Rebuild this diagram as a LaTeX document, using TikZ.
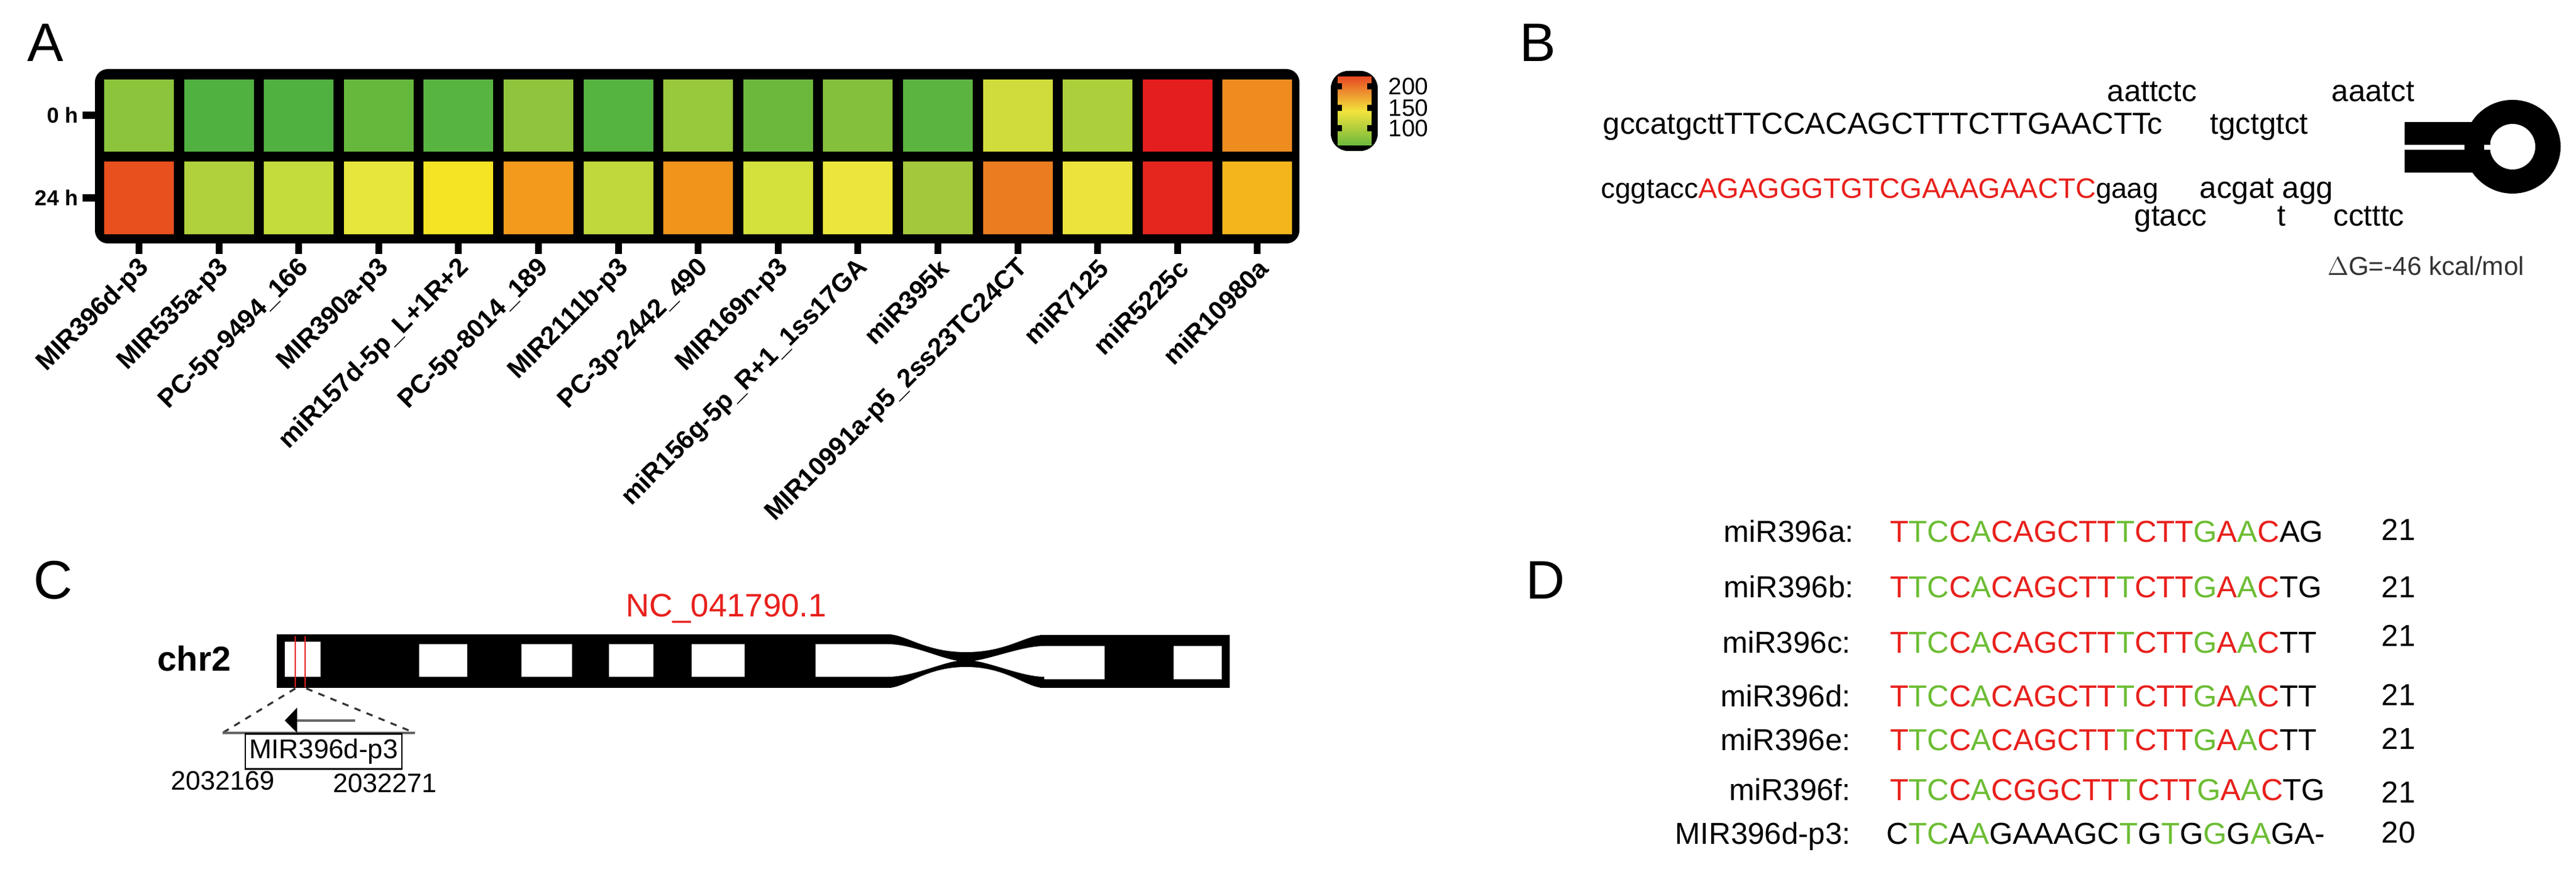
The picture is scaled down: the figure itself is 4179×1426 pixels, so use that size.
\documentclass[tikz,border=0pt]{standalone}
\usepackage{fontspec}
\setmainfont{Liberation Sans}
\usetikzlibrary{calc}
\definecolor{sred}{HTML}{E8201C}
\definecolor{sgreen}{HTML}{6CBD34}
\newcommand\sr[1]{\textcolor{sred}{#1}}
\newcommand\sg[1]{\textcolor{sgreen}{#1}}
\newcommand\fs[1]{\fontsize{#1}{#1}\selectfont}
\begin{document}
\begin{tikzpicture}[x=0.1mm,y=-0.1mm,
  panel/.style={anchor=north west,inner sep=0,font=\fs{25pt}},
  hlab/.style={anchor=east,rotate=45,inner sep=0,font=\fs{12pt}\bfseries},
  btxt/.style={anchor=base west,inner sep=0,font=\fs{14pt}},
  dlab/.style={anchor=base east,inner sep=0,font=\fs{14pt}},
  dseq/.style={anchor=base west,inner sep=0,font=\fs{14pt}},
  cnum/.style={anchor=base west,inner sep=0,font=\fs{12.3pt}}]
\useasboundingbox (0,0) rectangle (4179,1426);
\fill[white] (0,0) rectangle (4179,1426);
% ---------------- A
\node[panel] (pA) at (44,38) {A};
\fill[rounded corners=6] (154,112) rectangle (2108,395);
\foreach \i/\ca/\cb [count=\k] in {0/8CC43C/E8501E,1/50B040/B0D03C,2/50B040/C4DC3C,3/66B83C/E6E63C,4/58B440/F4E424,5/90C43C/F39A1C,6/55B340/C0D83C,7/98C83C/F0941C,8/6CB83C/D4E03C,9/84C03C/ECE63C,10/5CB440/A4C83C,11/D0DC3C/EC7C20,12/ACD03C/ECE43C,13/E41E1E/E4261E,14/EE8C20/F4B41C}{
  \definecolor{ca}{HTML}{\ca}\definecolor{cb}{HTML}{\cb}
  \fill[ca] ({169+129.6*\i},129) rectangle ({282+129.6*\i},246);
  \fill[cb] ({169+129.6*\i},262) rectangle ({282+129.6*\i},380);
  \fill ({220+129.6*\i},395) rectangle ({231+129.6*\i},412);
}
\foreach \i/\t/\n in {0/MIR396d-p3/l0,1/MIR535a-p3/l1,2/PC-5p-9494\_166/l2,3/MIR390a-p3/l3,4/miR157d-5p\_L+1R+2/l4,5/PC-5p-8014\_189/l5,6/MIR2111b-p3/l6,7/PC-3p-2442\_490/l7,8/MIR169n-p3/l8,9/miR156g-5p\_R+1\_1ss17GA/l9,10/miR395k/l10,11/MIR10991a-p5\_2ss23TC24CT/l11,12/miR7125/l12,13/miR5225c/l13,14/miR10980a/l14}
  \node[hlab] (\n) at ({236+129.6*\i},428) {\t};
\node[anchor=east,inner sep=0,font=\fs{10pt}\bfseries] (r0) at (128,187) {0 h};
\node[anchor=east,inner sep=0,font=\fs{10pt}\bfseries] (r1) at (128,321) {24 h};
\fill (134,181) rectangle (154,193);
\fill (134,315) rectangle (154,327);
% colorbar
\fill[rounded corners=8] (2159,115) rectangle (2235,245);
\shade[top color={rgb,255:red,232;green,74;blue,36},bottom color={rgb,255:red,108;green,184;blue,60},middle color={rgb,255:red,242;green,228;blue,60}] (2170,125) rectangle (2225,236);
\foreach \y in {140,175,208}{\fill (2168,{\y-5}) rectangle (2177,{\y+5}); \fill (2218,{\y-5}) rectangle (2227,{\y+5});}
\node[anchor=west,inner sep=0,font=\fs{11pt}] (c200) at (2252,140) {200};
\node[anchor=west,inner sep=0,font=\fs{11pt}] (c150) at (2252,175) {150};
\node[anchor=west,inner sep=0,font=\fs{11pt}] (c100) at (2252,208) {100};
% ---------------- B
\node[panel] (pB) at (2465,38) {B};
\node[btxt] (b1) at (2600,218) {gccatgcttTTCCACAGCTTTCTTGAACTTc};
\node[btxt] (b2) at (3418,165) {aattctc};
\node[btxt] (b3) at (3782,165) {aaatct};
\node[btxt] (b4) at (3585,218) {tgctgtct};
\node[btxt,font=\fs{13pt}] (b5) at (2597,322) {cggtacc\textcolor{sred}{AGAGGGTGTCGAAAGAACTC}gaag};
\node[btxt] (b6) at (3568,322) {acgat agg};
\node[btxt] (b7) at (3462,367) {gtacc};
\node[btxt] (b8) at (3694,367) {t};
\node[btxt] (b9) at (3785,367) {cctttc};
\fill (3901,198) rectangle (4040,235);
\fill (3901,243) rectangle (4040,280);
\fill[even odd rule] (4076,238) ellipse [x radius=78,y radius=76] (4076,238) circle [radius=37];
\fill[white] (4030,235) rectangle (4050,243);
\node[anchor=base west,inner sep=0,font=\fs{12pt},text=black!80] (dg) at (3775,447) {$\Delta$G=-46 kcal/mol};
% ---------------- C
\node[panel] (pC) at (54,909) {C};
\node[anchor=base,inner sep=0,font=\fs{15pt},text=sred] (nc) at (1178,1001) {NC\_041790.1};
\node[anchor=base east,inner sep=0,font=\fs{16pt}\bfseries] (chr) at (375,1089) {chr2};
\fill (449,1029) rectangle (1446,1116);
\fill (1687,1030) rectangle (1995,1116);
\fill[white] (462,1041) rectangle (520,1098);
\foreach \a/\b in {680/758,846/928,988/1060,1122/1208,1323/1450}
  \fill[white] (\a,1045) rectangle (\b,1098);
\foreach \a/\b in {1684/1792,1904/1982}
  \fill[white] (\a,1048) rectangle (\b,1102);
% centromere (X shape)
\fill (1440,1029) .. controls (1470,1029) and (1500,1058) .. (1567,1058) .. controls (1634,1058) and (1664,1030) .. (1694,1030)
  -- (1694,1048) .. controls (1660,1048) and (1610,1068) .. (1580,1072) .. controls (1610,1076) and (1660,1098) .. (1694,1098)
  -- (1694,1116) .. controls (1664,1116) and (1634,1082) .. (1567,1082) .. controls (1500,1082) and (1470,1116) .. (1440,1116)
  -- (1440,1098) .. controls (1480,1098) and (1525,1076) .. (1554,1072) .. controls (1525,1068) and (1480,1045) .. (1440,1045) -- cycle;
\draw[sred,line width=0.8pt] (479,1032) -- (479,1115) (495,1032) -- (495,1115);
\coordinate (tl) at (479,1117); \coordinate (tr) at (497,1117);
\coordinate (bl) at (361,1189); \coordinate (br) at (673,1189);
\draw[dashed,line width=0.9pt,black!80] (tl) -- (bl) (tr) -- (br);
\draw[black!60,line width=0.9pt] (bl) -- (br);
\fill (482,1148) -- (462,1169) -- (482,1189) -- cycle;
\draw[black!60,line width=1.2pt] (482,1169) -- (576,1169);
\node[draw,line width=0.6pt,minimum width=254*0.28453pt,minimum height=57*0.28453pt,inner sep=0,font=\fs{12.5pt}] (mir) at (525,1219) {MIR396d-p3};
\node[cnum] (n1) at (277,1282) {2032169};
\node[cnum] (n2) at (540,1285) {2032271};
% ---------------- D
\node[panel] (pD) at (2475,910) {D};
\node[dlab] (da) at (3008,880) {miR396a:};
\node[dlab] (db) at (3008,970) {miR396b:};
\node[dlab] (dc) at (3003,1060) {miR396c:};
\node[dlab] (dd) at (3003,1147) {miR396d:};
\node[dlab] (de) at (3003,1217) {miR396e:};
\node[dlab] (df) at (3003,1298) {miR396f:};
\node[dlab] (dp) at (3003,1369) {MIR396d-p3:};
\node[dseq] (sa) at (3066,880) {\sr{T}\sg{TC}\sr{C}\sg{A}\sr{CAGCTT}\sg{T}\sr{CTT}\sg{G}\sr{A}\sg{A}\sr{C}AG};
\node[dseq] (sb) at (3066,970) {\sr{T}\sg{TC}\sr{C}\sg{A}\sr{CAGCTT}\sg{T}\sr{CTT}\sg{G}\sr{A}\sg{A}\sr{C}TG};
\node[dseq] (sc) at (3066,1060) {\sr{T}\sg{TC}\sr{C}\sg{A}\sr{CAGCTT}\sg{T}\sr{CTT}\sg{G}\sr{A}\sg{A}\sr{C}TT};
\node[dseq] (sd) at (3066,1147) {\sr{T}\sg{TC}\sr{C}\sg{A}\sr{CAGCTT}\sg{T}\sr{CTT}\sg{G}\sr{A}\sg{A}\sr{C}TT};
\node[dseq] (se) at (3066,1217) {\sr{T}\sg{TC}\sr{C}\sg{A}\sr{CAGCTT}\sg{T}\sr{CTT}\sg{G}\sr{A}\sg{A}\sr{C}TT};
\node[dseq] (sf) at (3066,1298) {\sr{T}\sg{TC}\sr{C}\sg{A}\sr{CGGCTT}\sg{T}\sr{CTT}\sg{G}\sr{A}\sg{A}\sr{C}TG};
\node[dseq] (sp) at (3060,1369) {C\sg{TC}A\sg{A}GAAAGC\sg{T}G\sg{T}G\sg{G}G\sg{A}GA-};
\foreach \y/\t/\n in {877/21/ka,970/21/kb,1049/21/kc,1145/21/kd,1215/21/ke,1302/21/kf,1367/20/kp}
  \node[dseq] (\n) at (3863,\y) {\t};
\end{tikzpicture}
\end{document}
